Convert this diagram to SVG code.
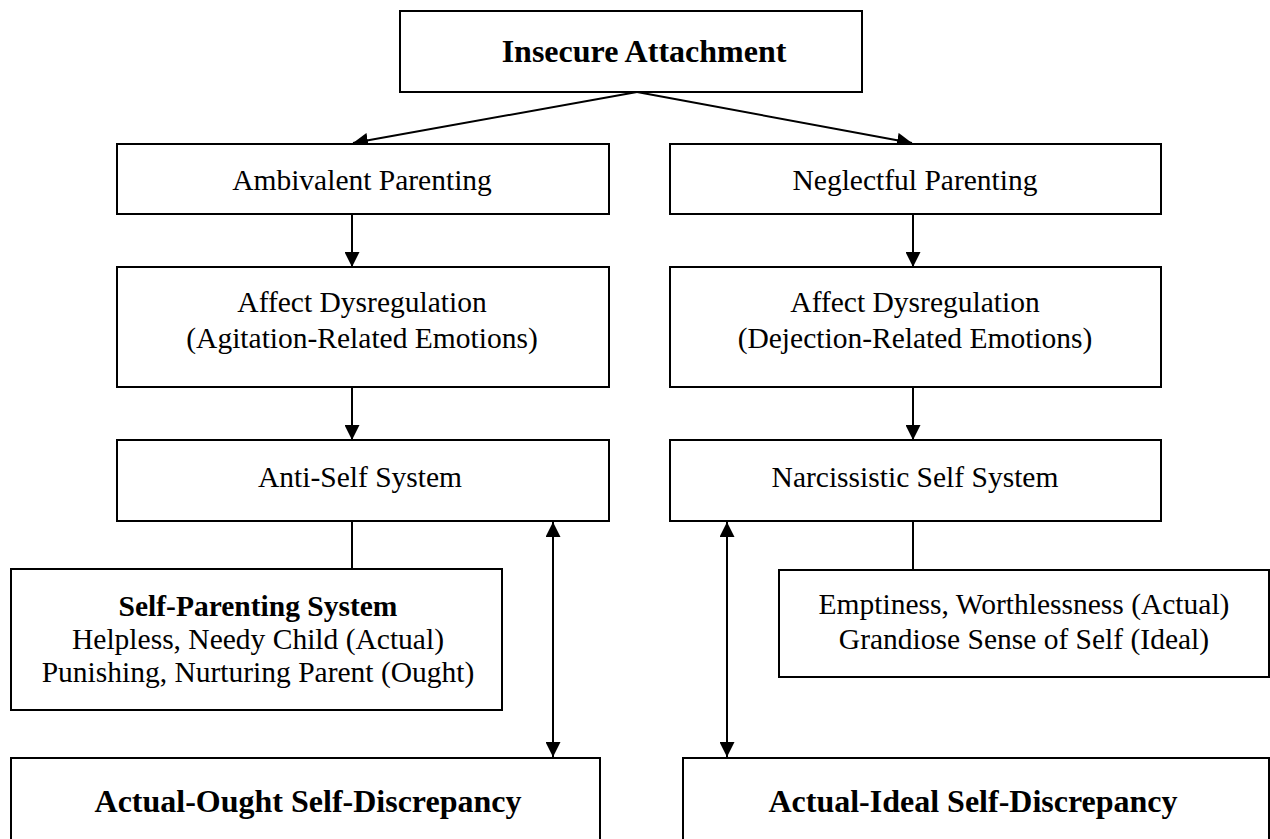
<svg xmlns="http://www.w3.org/2000/svg" width="1270" height="839" viewBox="0 0 1270 839">
  <style>
    .box { fill: #ffffff; stroke: #000000; stroke-width: 2; }
    .edge { fill: none; stroke: #000000; stroke-width: 2; }
    text { font-family: "Liberation Serif", "Times New Roman", serif; fill: #000000; text-anchor: middle; }
    .t { font-size: 29.5px; }
    .b { font-size: 29.5px; font-weight: bold; }
    .big { font-size: 32px; font-weight: bold; }
  </style>
  <defs>
    <marker id="arrow" viewBox="0 0 15 15" refX="15" refY="7.5" markerWidth="15" markerHeight="15" markerUnits="userSpaceOnUse" orient="auto-start-reverse">
      <path d="M0,0 L15,7.5 L0,15 Z" fill="#000000"/>
    </marker>
  </defs>
  <rect width="1270" height="839" fill="#ffffff"/>

  <g id="connectors">
    <line class="edge" x1="637" y1="92" x2="353" y2="143" marker-end="url(#arrow)"/>
    <line class="edge" x1="637" y1="92" x2="912" y2="143" marker-end="url(#arrow)"/>
    <line class="edge" x1="352" y1="214" x2="352" y2="267" marker-end="url(#arrow)"/>
    <line class="edge" x1="913" y1="214" x2="913" y2="267" marker-end="url(#arrow)"/>
    <line class="edge" x1="352" y1="387" x2="352" y2="440" marker-end="url(#arrow)"/>
    <line class="edge" x1="913" y1="387" x2="913" y2="440" marker-end="url(#arrow)"/>
    <line class="edge" x1="352" y1="521" x2="352" y2="569"/>
    <line class="edge" x1="913" y1="521" x2="913" y2="570"/>
    <line class="edge" x1="553" y1="522" x2="553" y2="757" marker-start="url(#arrow)" marker-end="url(#arrow)"/>
    <line class="edge" x1="727" y1="522" x2="727" y2="757" marker-start="url(#arrow)" marker-end="url(#arrow)"/>
  </g>

  <g id="insecure-attachment">
    <rect class="box" x="400" y="11" width="462" height="81"/>
    <text class="big" x="644" y="62">Insecure Attachment</text>
  </g>

  <g id="ambivalent-parenting">
    <rect class="box" x="117" y="144" width="492" height="70"/>
    <text class="t" x="362" y="190">Ambivalent Parenting</text>
  </g>

  <g id="neglectful-parenting">
    <rect class="box" x="670" y="144" width="491" height="70"/>
    <text class="t" x="915" y="190">Neglectful Parenting</text>
  </g>

  <g id="affect-agitation">
    <rect class="box" x="117" y="267" width="492" height="120"/>
    <text class="t" x="362" y="312">Affect Dysregulation</text>
    <text class="t" x="362" y="348">(Agitation-Related Emotions)</text>
  </g>

  <g id="affect-dejection">
    <rect class="box" x="670" y="267" width="491" height="120"/>
    <text class="t" x="915" y="312">Affect Dysregulation</text>
    <text class="t" x="915" y="348">(Dejection-Related Emotions)</text>
  </g>

  <g id="anti-self-system">
    <rect class="box" x="117" y="440" width="492" height="81"/>
    <text class="t" x="360" y="487">Anti-Self System</text>
  </g>

  <g id="narcissistic-self-system">
    <rect class="box" x="670" y="440" width="491" height="81"/>
    <text class="t" x="915" y="487">Narcissistic Self System</text>
  </g>

  <g id="self-parenting-system">
    <rect class="box" x="11" y="569" width="491" height="141"/>
    <text class="b" x="258" y="616">Self-Parenting System</text>
    <text class="t" x="258" y="649">Helpless, Needy Child (Actual)</text>
    <text class="t" x="258" y="682">Punishing, Nurturing Parent (Ought)</text>
  </g>

  <g id="emptiness-grandiosity">
    <rect class="box" x="779" y="570" width="490" height="107"/>
    <text class="t" x="1024" y="614">Emptiness, Worthlessness (Actual)</text>
    <text class="t" x="1024" y="649">Grandiose Sense of Self (Ideal)</text>
  </g>

  <g id="actual-ought-discrepancy">
    <rect class="box" x="11" y="758" width="589" height="100"/>
    <text class="big" x="308" y="812">Actual-Ought Self-Discrepancy</text>
  </g>

  <g id="actual-ideal-discrepancy">
    <rect class="box" x="683" y="758" width="586" height="100"/>
    <text class="big" x="973" y="812">Actual-Ideal Self-Discrepancy</text>
  </g>
</svg>
